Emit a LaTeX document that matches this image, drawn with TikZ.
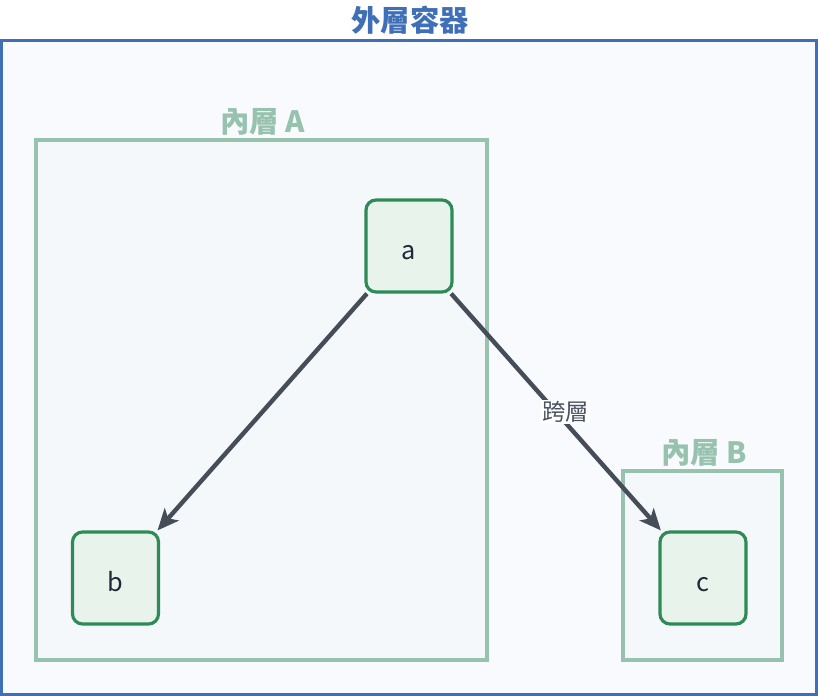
\documentclass[tikz,border=0pt]{standalone}
\usepackage{fontspec}
\setmainfont{Noto Sans CJK TC}
\usepackage{tikz}
\usetikzlibrary{arrows.meta}
\definecolor{outerline}{HTML}{3F6FB6}
\definecolor{outerfill}{HTML}{F8FAFE}
\definecolor{layerline}{HTML}{96C2AE}
\definecolor{layerfill}{HTML}{F4F8FA}
\definecolor{nodeline}{HTML}{2E8B57}
\definecolor{nodefill}{HTML}{E8F3EC}
\definecolor{nodetext}{HTML}{1F2937}
\definecolor{linkcol}{HTML}{444D58}
\definecolor{linktext}{HTML}{4A5360}
\tikzstyle{box} = [draw=nodeline, fill=nodefill, line width=2.4pt, rounded corners=7.5pt, minimum width=64.5pt, minimum height=69pt, text height=19.5pt, text depth=0pt, text=nodetext, font=\fontsize{19}{21}\selectfont]
\tikzstyle{layer} = [draw=layerline, fill=layerfill, line width=2.8pt]
\tikzstyle{layerlabel} = [anchor=center, text=layerline, font=\bfseries\fontsize{22}{24}\selectfont]
\tikzstyle{link} = [draw=linkcol, line width=3.3pt, -{Stealth[length=16pt, width=14pt, inset=4pt]}]
\tikzstyle{linklabel} = [fill=white, inner sep=1pt, text=linktext, font=\fontsize{17.5}{20}\selectfont]
\tikzset{font={\small}}

\begin{document}
\begin{tikzpicture}[x=0.75pt, y=-0.75pt]
  \useasboundingbox (0,0) rectangle (818,696);
  \fill[white] (0,0) rectangle (818,696);
  \filldraw[draw=outerline, fill=outerfill, line width=2.25pt] (1,40) rectangle (816.5,694.5);
  \node[at={(410,20)}, anchor=center, text=outerline, font=\bfseries\fontsize{22}{24}\selectfont] (title) {外層容器};

  % inner layers
  \filldraw[layer] (36,140) rectangle (487,660);
  \node[at={(263,122)}, layerlabel] (labelA) {內層 A};
  \filldraw[layer] (623,471) rectangle (782,660);
  \node[at={(704,453)}, layerlabel] (labelB) {內層 B};

  \node[at={(409,246)}, box] (a) {a};
  \node[at={(115.5,578)}, box] (b) {b};
  \node[at={(703,578)}, box] (c) {c};

  \draw[link] (a) -- (b);
  \draw[link] (a) -- node[linklabel, xshift=7pt] (cross) {跨層} (c);
\end{tikzpicture}
\end{document}
